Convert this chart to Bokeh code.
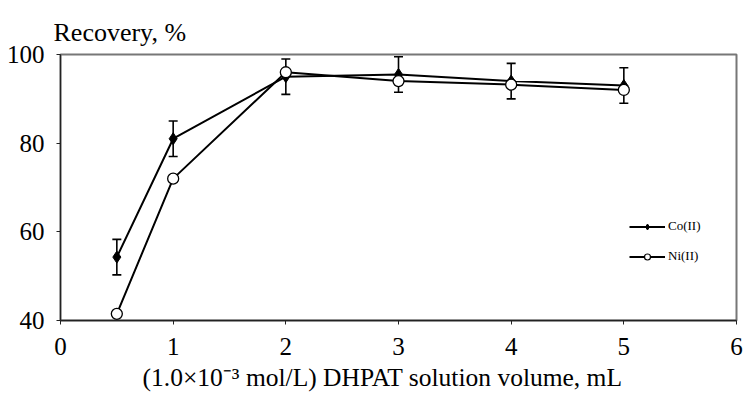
from bokeh.plotting import figure
from bokeh.models import Range1d, FixedTicker, Whisker, ColumnDataSource, Legend, LegendItem
from bokeh.embed import file_html
from bokeh.resources import INLINE

volume = [0.5, 1, 2, 3, 4, 5]
co_recovery = [54.3, 81.0, 95.0, 95.5, 94.0, 93.0]
co_err = [4, 4, 4, 4, 4, 4]
ni_recovery = [41.5, 72.0, 96.0, 94.0, 93.2, 92.0]
x_ticks = [0, 1, 2, 3, 4, 5, 6]
y_ticks = [40, 60, 80, 100]
x_title = "(1.0\u00d710\u207b\u00b3 mol/L) DHPAT solution volume, mL"
y_title = "Recovery, %"

FONT = "Liberation Serif"

p = figure(width=743, height=394, output_backend="svg", toolbar_location=None,
           x_range=Range1d(0, 6), y_range=Range1d(40, 100),
           min_border_left=60, min_border_right=7, min_border_top=54, min_border_bottom=72)
p.grid.visible = False
p.outline_line_color = "#777777"
p.outline_line_width = 2
p.background_fill_color = "white"
p.border_fill_color = "white"

p.title.text = y_title
p.title.text_font = FONT
p.title.text_font_size = "26px"
p.title.text_font_style = "normal"
p.title.text_color = "black"
p.title.align = "left"
p.title.offset = -7
p.title.standoff = 16

p.axis.axis_line_color = "#222222"
p.axis.axis_line_width = 1.3
p.axis.major_tick_line_color = "#222222"
p.axis.major_tick_out = 4
p.axis.major_tick_in = 0
p.axis.minor_tick_line_color = None
p.axis.major_label_text_font = FONT
p.axis.major_label_text_font_size = "25px"
p.axis.major_label_text_color = "black"
p.xaxis.ticker = FixedTicker(ticks=x_ticks)
p.yaxis.ticker = FixedTicker(ticks=y_ticks)
p.xaxis.major_label_standoff = 13
p.yaxis.major_label_standoff = 12
p.xaxis.axis_label = x_title + "\u00a0" * 5
p.xaxis.axis_label_text_font = FONT
p.xaxis.axis_label_text_font_size = "25.5px"
p.xaxis.axis_label_text_font_style = "normal"
p.xaxis.axis_label_text_color = "black"
p.xaxis.axis_label_standoff = 5

src_co = ColumnDataSource(dict(x=volume, y=co_recovery,
                               lo=[v - e for v, e in zip(co_recovery, co_err)],
                               hi=[v + e for v, e in zip(co_recovery, co_err)]))
src_ni = ColumnDataSource(dict(x=volume, y=ni_recovery))

w = Whisker(source=src_co, base="x", lower="lo", upper="hi", line_color="black", line_width=1.6)
w.upper_head.size = 9
w.lower_head.size = 9
w.upper_head.line_width = 1.6
w.lower_head.line_width = 1.6
p.add_layout(w)

co_line = p.line("x", "y", source=src_co, line_color="black", line_width=2)
ni_line = p.line("x", "y", source=src_ni, line_color="black", line_width=2)
co_pts = p.scatter("x", "y", source=src_co, marker="diamond", size=12, fill_color="black", line_color="black")
ni_pts = p.scatter("x", "y", source=src_ni, marker="circle", size=11, fill_color="white", line_color="black", line_width=1.3)

# legend-only markers (placed outside the visible range)
co_leg = p.scatter(x=[-10], y=[0], marker="diamond", size=8, fill_color="black", line_color="black")
ni_leg = p.scatter(x=[-10], y=[0], marker="circle", size=7, fill_color="white", line_color="black", line_width=1.2)
co_legline = p.line(x=[-10, -9], y=[0, 0], line_color="black", line_width=2)
ni_legline = p.line(x=[-10, -9], y=[0, 0], line_color="black", line_width=2)

leg = Legend(items=[LegendItem(label="Co(II)", renderers=[co_legline, co_leg]),
                    LegendItem(label="Ni(II)", renderers=[ni_legline, ni_leg])],
             location=(569, 54), padding=0, margin=0, spacing=10,
             glyph_width=36, glyph_height=15, label_height=20, label_standoff=3,
             label_text_font=FONT, label_text_font_size="13px", label_text_color="black",
             border_line_color=None, background_fill_alpha=0)
p.add_layout(leg)

open("out.html", "w").write(file_html(p, INLINE))
